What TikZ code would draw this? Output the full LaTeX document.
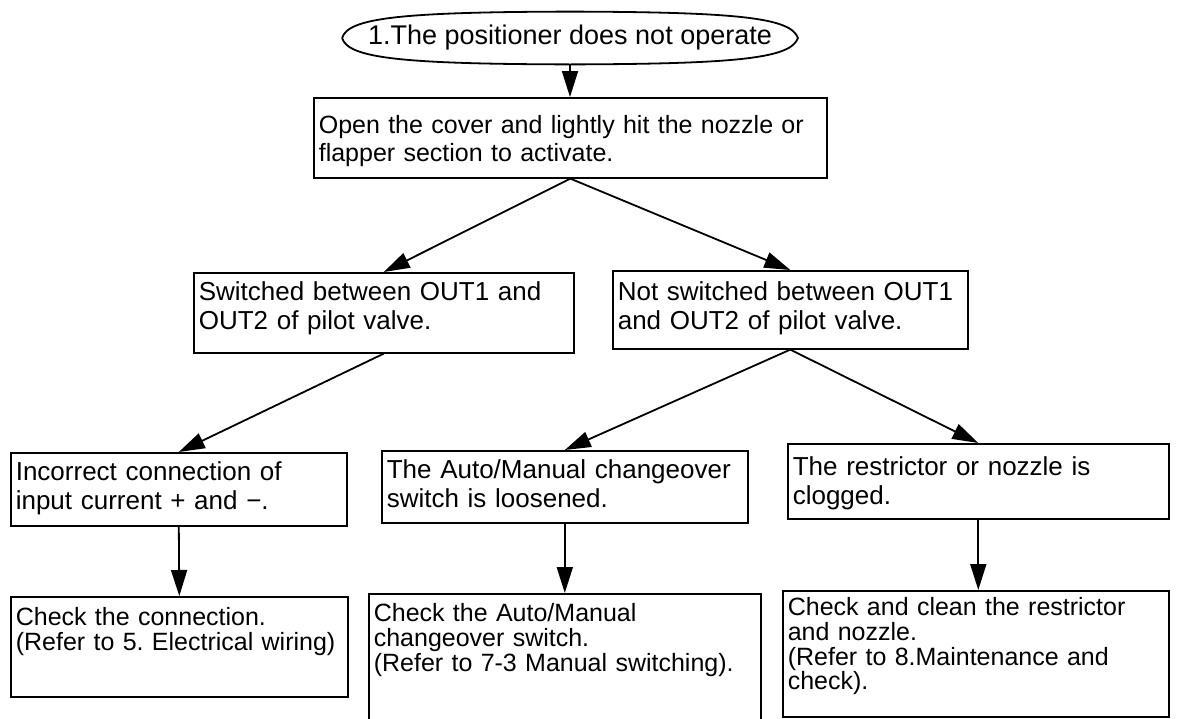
\documentclass[tikz,border=0pt]{standalone}
\usepackage{fontspec}
\setmainfont{Liberation Sans}
\usepackage{tikz}
\usetikzlibrary{arrows.meta}
\frenchspacing

\begin{document}
\begin{tikzpicture}[x=0.5pt, y=-0.5pt,
    every node/.style={font=\fontsize{13}{14.5}\selectfont},
    stepbox/.style={draw, line width=0.8pt, rectangle, anchor=north west, align=left,
        inner xsep=2.5pt, inner ysep=0pt, text width=#1},
    checkbox/.style={stepbox=#1, font=\fontsize{12.5}{12.3}\selectfont},
    flow/.style={-{Triangle[length=13pt, width=8pt]}, line width=0.9pt}]

    \useasboundingbox (0,0) rectangle (1178,718);

    % Step 1: The problem and the first check
    \node[minimum width=227.5pt, minimum height=26pt, inner sep=0pt, font=\fontsize{13.5}{15}\selectfont] (start) at (570,38) {1.The positioner does not operate};
    \draw[line width=0.9pt] (start.west) .. controls (348,18) and (400,12) .. (start.north)
        .. controls (740,12) and (791,18) .. (start.east)
        .. controls (791,58) and (740,64) .. (start.south)
        .. controls (400,64) and (348,58) .. (start.west);
    \node[stepbox=251.5pt, text height=18pt, text depth=22pt, font=\fontsize{12.5}{14}\selectfont] (hit) at (313,97) {Open the cover and lightly hit the nozzle or\\flapper section to activate.};

    % Step 2: Pilot valve outputs
    \node[stepbox=185pt, text height=14pt, text depth=26pt] (switched) at (193,272) {Switched between OUT1 and\\OUT2 of pilot valve.};
    \node[stepbox=172.5pt, text height=15pt, text depth=24pt] (notswitched) at (612,270) {Not switched between OUT1\\and OUT2 of pilot valve.};

    % Step 3: Causes
    \node[stepbox=163pt, text height=14pt, text depth=22.5pt] (wiring) at (10,452) {Incorrect connection of\\input current + and −.};
    \node[stepbox=178pt, text height=14pt, text depth=22pt] (manual) at (381,450) {The Auto/Manual changeover\\switch is loosened.};
    \node[stepbox=185.5pt, text height=16pt, text depth=21.5pt] (clogged) at (787,443) {The restrictor or nozzle is\\clogged.};

    % Step 4: Remedies
    \node[checkbox=163.5pt, text height=14.5pt, text depth=35.5pt] (checkwiring) at (10,596) {Check the connection.\\(Refer to 5. Electrical wiring)};
    \node[checkbox=191pt, text height=14pt, text depth=53.5pt] (checkmanual) at (368,593) {Check the Auto/Manual\\changeover switch.\\(Refer to 7-3 Manual switching).};
    \node[checkbox=188pt, text height=12.5pt, text depth=50.5pt] (checkclean) at (782,590) {Check and clean the restrictor\\and nozzle.\\(Refer to 8.Maintenance and\\check).};

    % Arrows
    \draw[flow] (start.south) -- (start.south |- hit.north);
    \draw[flow] (hit.south) -- (switched.north);
    \draw[flow] (hit.south) -- (notswitched.north);
    \draw[flow] (switched.south) -- (wiring.north);
    \draw[flow] (notswitched.south) -- (manual.north);
    \draw[flow] (notswitched.south) -- (clogged.north);
    \draw[flow] (wiring.south) -- (checkwiring.north);
    \draw[flow] (manual.south) -- (checkmanual.north);
    \draw[flow] (clogged.south) -- (clogged.south |- checkclean.north);

\end{tikzpicture}
\end{document}
